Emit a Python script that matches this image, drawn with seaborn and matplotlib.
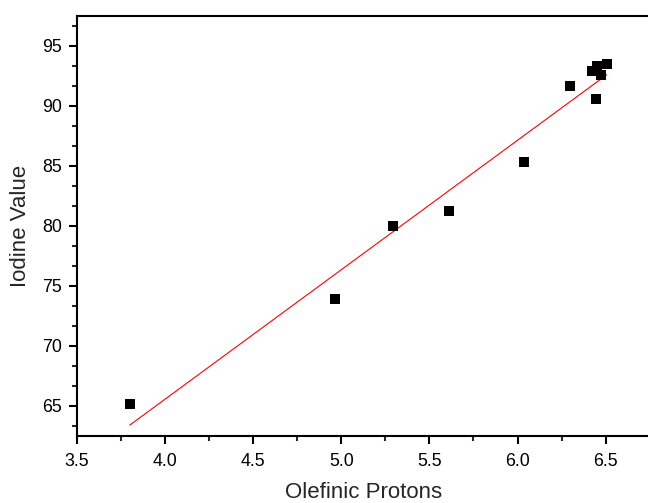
import matplotlib
matplotlib.use("Agg")
import matplotlib.pyplot as plt
import seaborn as sns
import numpy as np
import pandas as pd
from matplotlib.ticker import MultipleLocator

olefinic_protons = [3.80, 4.964, 5.293, 5.611, 6.037, 6.30, 6.425, 6.445, 6.449, 6.474, 6.506]
iodine_value = [65.17, 73.92, 79.97, 81.25, 85.33, 91.61, 92.92, 90.56, 93.33, 92.53, 93.50]

df = pd.DataFrame({"Olefinic Protons": olefinic_protons, "Iodine Value": iodine_value})

sns.set_style("white")
plt.rcParams['font.family'] = ['Liberation Sans', 'DejaVu Sans']

fig = plt.figure(figsize=(6.48, 5.03), dpi=100)
W, H = 648, 503
left, right, top, bottom = 77, 650, 15.7, 436
ax = fig.add_axes([left / W, 1 - bottom / H, (right - left) / W, (bottom - top) / H])

sns.regplot(data=df, x="Olefinic Protons", y="Iodine Value", ax=ax, ci=None,
            scatter=False, line_kws=dict(color="#ff0000", lw=0.8))
sns.scatterplot(data=df, x="Olefinic Protons", y="Iodine Value", ax=ax,
                marker="s", s=55, color="black", edgecolor="black", linewidth=0, zorder=3)

ax.set_xlim(3.5, 3.5 + (right - left) / 176.2)
ax.set_ylim(62.5, 97.5)
ax.xaxis.set_major_locator(MultipleLocator(0.5))
ax.xaxis.set_minor_locator(MultipleLocator(0.25))
ax.yaxis.set_major_locator(MultipleLocator(5))
ax.yaxis.set_minor_locator(MultipleLocator(5 / 3))
ax.set_xticks([3.5, 4.0, 4.5, 5.0, 5.5, 6.0, 6.5])
ax.set_xticklabels(["3.5", "4.0", "4.5", "5.0", "5.5", "6.0", "6.5"])

for side in ["left", "bottom", "top"]:
    ax.spines[side].set_linewidth(1.5)
    ax.spines[side].set_color("black")
ax.spines["right"].set_visible(False)

ax.tick_params(axis="both", which="major", direction="out", length=6, width=1.5,
               labelsize=12.8, colors="black", bottom=True, left=True)
ax.tick_params(axis="x", which="major", pad=6)
ax.tick_params(axis="y", which="major", pad=5)
ax.tick_params(axis="both", which="minor", direction="out", length=3.5, width=1.5,
               bottom=True, left=True)
ax.tick_params(axis="x", which="both", top=False)
ax.tick_params(axis="y", which="both", right=False)

ax.set_xlabel("Olefinic Protons", fontsize=16, labelpad=9)
ax.set_ylabel("Iodine Value", fontsize=16, labelpad=8)

fig.savefig("out.png", dpi=100)
